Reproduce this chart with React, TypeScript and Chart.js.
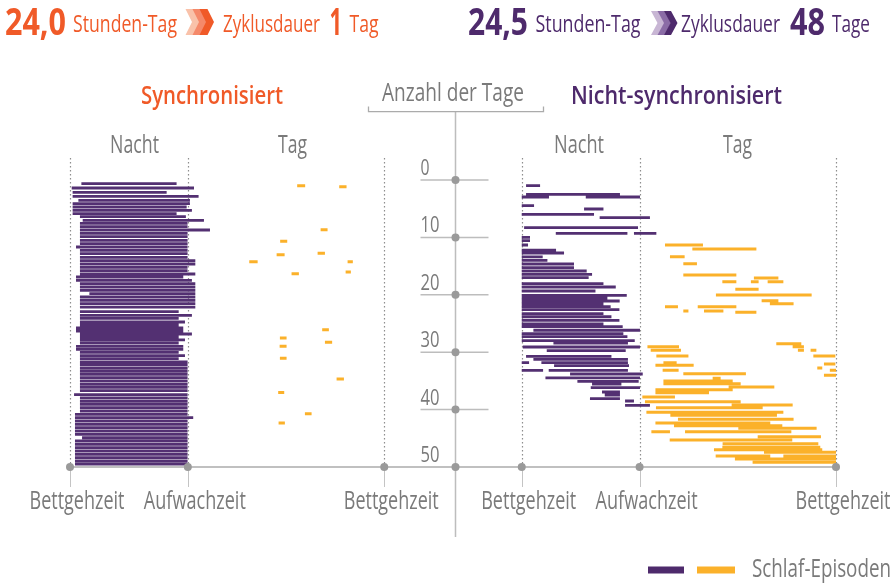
import { useEffect, useRef } from 'react';
import { Chart, registerables } from 'chart.js';
Chart.register(...registerables);

// ---- data (day number, start hour, end hour; hours after bedtime) ----
const DAY_TICKS = [0, 10, 20, 30, 40, 50];
const TIME_LABELS = ['Bettgehzeit', 'Aufwachzeit', 'Bettgehzeit'];
const PANEL_TITLES = ['Synchronisiert', 'Nicht-synchronisiert'];
const PHASE_LABELS = ['Nacht', 'Tag'];
const LEGEND_LABEL = 'Schlaf-Episoden';

const LEFT_NIGHT: [number, number, number][] = [
  [0.64, 0.87, 8.14], [1.39, 0.13, 9.47], [2.15, 0.2, 7.38], [2.85, 0.2, 9.82], [3.54, 0.64, 9.16],
  [4.12, 0.2, 9.16], [4.7, 0.2, 8.91], [5.28, 0.2, 9.31], [5.86, 0.2, 8.14], [6.39, 0.76, 8.85],
  [7.03, 0.97, 10.23], [7.55, 0.76, 8.98], [8.13, 0.76, 8.98], [8.71, 0.76, 10.69], [9.29, 0.76, 8.98],
  [9.87, 0.76, 8.98], [10.51, 0.76, 8.98], [11.09, 0.76, 8.98], [11.67, 0.46, 8.98], [12.26, 0.76, 8.98],
  [12.84, 0.76, 8.98], [13.47, 0.76, 8.98], [14.05, 0.76, 9.57], [14.63, 0.76, 9.57], [15.22, 0.76, 8.98],
  [15.8, 0.76, 8.98], [16.38, 0.76, 9.57], [16.9, 0.46, 8.65], [17.48, 0.46, 9.31], [18.06, 0.76, 9.57],
  [18.64, 0.76, 9.57], [19.22, 0.76, 9.57], [19.8, 1.48, 9.57], [20.38, 0.76, 9.57], [20.97, 0.76, 9.57],
  [21.55, 0.76, 9.57], [22.13, 0.76, 9.57], [22.94, 0.76, 8.3], [23.58, 0.76, 9.31], [24.1, 0.76, 8.3],
  [24.74, 0.76, 8.78], [25.26, 0.76, 8.3], [25.78, 0.46, 8.65], [26.31, 0.46, 8.65], [26.83, 0.76, 9.31],
  [27.35, 0.76, 8.3], [27.87, 0.76, 8.78], [28.4, 0.76, 8.3], [28.97, 0.46, 8.65], [29.5, 0.46, 8.65],
  [30.02, 0.76, 8.3], [30.61, 0.76, 8.78], [31.13, 0.76, 8.3], [31.71, 0.76, 8.98], [32.23, 0.76, 8.98],
  [32.81, 0.76, 8.98], [33.33, 0.76, 8.98], [33.86, 0.76, 8.98], [34.44, 0.76, 8.98], [35.02, 0.76, 8.98],
  [35.6, 0.76, 8.98], [36.12, 0.76, 8.98], [36.71, 0.76, 8.98], [37.4, 0.31, 8.98], [37.98, 0.76, 8.98],
  [38.56, 0.76, 8.98], [39.08, 0.76, 8.98], [39.67, 0.76, 8.98], [40.24, 0.76, 8.98], [40.82, 0.38, 8.98],
  [41.41, 0.38, 9.41], [41.99, 0.38, 8.98], [42.57, 0.38, 8.98], [43.15, 0.38, 8.98], [43.73, 0.38, 8.98],
  [44.31, 0.38, 8.98], [44.9, 0.92, 8.98], [45.47, 0.38, 8.98], [46.05, 0.38, 8.98], [46.64, 0.38, 8.98],
  [47.21, 0.38, 8.98], [47.79, 0.38, 8.98], [48.38, 0.38, 8.98], [48.95, 0.38, 8.98], [49.48, 0.38, 8.98],
];

const LEFT_DAY: [number, number, number][] = [
  [0.99, 17.35, 17.96], [1.17, 20.56, 21.12], [8.66, 19.14, 19.67], [10.68, 16.05, 16.59],
  [13.01, 15.78, 16.39], [12.77, 18.91, 19.47], [14.23, 13.69, 14.33], [14.23, 21.2, 21.6],
  [16.03, 21.05, 21.45], [16.32, 16.92, 17.48], [26.08, 19.26, 19.77], [27.53, 16.03, 16.54],
  [28.28, 19.47, 20.02], [28.98, 16.01, 16.54], [31.06, 16.03, 16.54], [34.67, 20.36, 20.92],
  [37.0, 15.9, 16.36], [40.71, 17.94, 18.45], [42.33, 15.93, 16.41],
];

const RIGHT_NIGHT: [number, number, number][] = [
  [0.99, 0.33, 1.4], [2.49, 0.33, 7.5], [2.96, 0, 2.08], [2.96, 4.89, 9.03], [4.48, 0, 0.94],
  [5.05, 4.76, 6.24], [5.98, 0, 5.52], [6.57, 5.95, 9.79], [8.31, 0.18, 8.88], [9.29, 2.6, 8.07],
  [9.29, 8.57, 10.28], [9.98, 0, 0.63], [10.57, 0, 0.63], [11.32, 0, 0.48], [12.2, 0, 2.62],
  [12.72, 0, 3.23], [13.41, 0, 1.6], [13.99, 0, 1.96], [14.63, 0, 3.99], [15.28, 0, 3.99],
  [15.85, 0, 4.96], [16.43, 0, 5.37], [17.02, 0, 5.11], [18.07, 0, 6.24], [18.64, 0, 7.18],
  [19.34, 0, 5.63], [20.09, 0, 8.02], [20.56, 0, 6.54], [21.08, 0, 7.48], [21.6, 0, 6.24],
  [22.07, 0, 6.79], [22.6, 0, 7.46], [23.29, 0, 6.24], [23.82, 0, 6.85], [24.44, 0, 7.46],
  [25.09, 0, 6.24], [25.56, 0, 7.71], [26.18, 0.89, 9.03], [26.78, 0, 7.76], [27.3, 0, 8.07],
  [28.0, 0, 8.63], [28.4, 2.42, 8.11], [29.09, 0.08, 9.03], [29.74, 1.91, 7.94], [30.71, 0.33, 6.85],
  [31.24, 0.89, 8.11], [31.83, 0, 0.56], [31.83, 1.5, 8.11], [32.35, 2.47, 8.19], [33.15, 0, 1.63],
  [33.15, 2.06, 8.11], [33.8, 3.69, 9.24], [34.49, 1.81, 9.03], [35.07, 4.25, 8.93], [35.54, 5.37, 7.61],
  [36.18, 5.27, 9.03], [36.93, 6.13, 7.5], [37.46, 6.34, 7.5], [38.1, 5.21, 7.5], [38.5, 7.89, 8.57],
  [39.25, 7.89, 9.79],
];

const RIGHT_DAY: [number, number, number][] = [
  [11.32, 10.94, 13.84], [12.02, 13.03, 17.92], [13.36, 11.32, 12.44], [14.58, 12.34, 13.38],
  [16.55, 12.34, 16.39], [17.07, 17.73, 19.6], [17.72, 15.32, 16.39], [17.72, 17.5, 18.09],
  [17.72, 18.78, 19.98], [19.04, 16.31, 18.09], [20.03, 14.83, 22.14], [21.03, 18.32, 19.6],
  [21.55, 18.95, 20.76], [22.07, 10.94, 11.93], [22.07, 13.44, 16.39], [22.82, 12.34, 12.73],
  [22.82, 13.92, 15.4], [23.05, 16.31, 17.92], [28.52, 19.44, 21.35], [29.04, 9.6, 12.01],
  [29.04, 20.69, 21.55], [29.67, 9.85, 12.16], [29.67, 21.09, 21.55], [29.67, 22.06, 22.5],
  [30.66, 10.28, 12.73], [30.66, 22.27, 23.95], [31.83, 10.82, 11.83], [32.06, 23.08, 23.95],
  [32.28, 10.21, 13.13], [32.75, 22.57, 22.95], [33.15, 10.76, 11.98], [33.15, 23.53, 24.0],
  [33.75, 12.34, 17.12], [34.02, 23.08, 24.0], [34.55, 14.58, 15.19], [35.02, 10.82, 16.11],
  [35.49, 10.82, 16.72], [36.06, 15.8, 19.29], [36.53, 10.21, 16.11], [37.06, 10.21, 14.3],
  [37.8, 9.21, 11.7], [38.62, 9.41, 16.72], [39.2, 16.03, 20.69], [39.67, 10.25, 18.4],
  [40.47, 9.52, 19.98], [41.0, 11.35, 19.49], [41.69, 11.93, 20.76], [42.33, 10.21, 18.98],
  [42.8, 11.63, 19.9], [43.26, 16.54, 22.52], [43.85, 9.9, 11.32], [43.85, 12.47, 20.59],
  [44.72, 18.02, 22.85], [45.3, 11.3, 20.66], [45.94, 15.34, 22.65], [46.57, 15.32, 22.8],
  [46.99, 14.68, 22.95], [47.44, 18.5, 24.0], [48.08, 14.81, 18.98], [48.08, 19.98, 24.0],
  [48.61, 16.28, 24.0], [49.18, 17.63, 24.0],
];

// ---- layout constants ----
const R_OFFSET = 34.5; // right panel bedtime on the shared hour scale
const CENTER = 29.4; // centre day axis on the hour scale
const WAKE = 9;
const DAY_LEN = 24;
const GUIDE_TOP = -3.85;

const PURPLE = '#4e2a6c';
const BAR_PURPLE = '#533072';
const ORANGE = '#fbb12a';
const RED = '#f05a28';
const GREY_TXT = '#7a7a7a';
const GREY_LINE = '#ababab';
const GREY_DOT = '#9a9a9a';
const FONT = '"Open Sans", "Noto Sans", sans-serif';

function segs(rows: [number, number, number][], off: number) {
  const pts: { x: number; y: number | null }[] = [];
  for (const [d, s, e] of rows) {
    pts.push({ x: off + s, y: d }, { x: off + e, y: d }, { x: off + e, y: null });
  }
  return pts;
}

function fit(ctx: CanvasRenderingContext2D, s: string, left: number, base: number, size: number, weight: number, color: string, width: number) {
  ctx.font = `${weight} ${size}px ${FONT}`;
  const m = ctx.measureText(s).width;
  ctx.save();
  ctx.translate(left, base);
  ctx.scale(width / m, 1);
  ctx.fillStyle = color;
  ctx.textAlign = 'left';
  ctx.textBaseline = 'alphabetic';
  ctx.fillText(s, 0, 0);
  ctx.restore();
}

function chevrons(ctx: CanvasRenderingContext2D, x: number, top: number, bottom: number, w: number, depth: number, step: number, colors: string[]) {
  const mid = (top + bottom) / 2;
  colors.forEach((c, i) => {
    const x0 = x + i * step;
    ctx.beginPath();
    ctx.moveTo(x0, top);
    ctx.lineTo(x0 + w, top);
    ctx.lineTo(x0 + w + depth, mid);
    ctx.lineTo(x0 + w, bottom);
    ctx.lineTo(x0, bottom);
    ctx.lineTo(x0 + depth, mid);
    ctx.closePath();
    ctx.fillStyle = c;
    ctx.fill();
  });
}

const deco = {
  id: 'deco',
  beforeDatasetsDraw(chart: any) {
    const { ctx } = chart;
    const xs = chart.scales.x, ys = chart.scales.y;
    const X = (v: number) => xs.getPixelForValue(v);
    const Y = (v: number) => ys.getPixelForValue(v);
    ctx.save();
    // dotted guides
    ctx.strokeStyle = '#8e8e8e';
    ctx.lineWidth = 1.2;
    ctx.setLineDash([1.5, 2.5]);
    for (const off of [0, R_OFFSET]) {
      for (const h of [0, WAKE, DAY_LEN]) {
        const px = Math.round(X(off + h)) + 0.5;
        ctx.beginPath();
        ctx.moveTo(px, Y(GUIDE_TOP));
        ctx.lineTo(px, Y(50));
        ctx.stroke();
      }
    }
    ctx.setLineDash([]);
    const cx = Math.round(X(CENTER)) + 0.5;
    // centre vertical axis
    ctx.strokeStyle = '#bdbdbd';
    ctx.lineWidth = 1.5;
    ctx.beginPath();
    ctx.moveTo(cx, 111.7);
    ctx.lineTo(cx, 537);
    ctx.stroke();
    // bracket
    ctx.strokeStyle = GREY_LINE;
    ctx.lineWidth = 1.3;
    ctx.beginPath();
    ctx.moveTo(cx - 87, 106.5);
    ctx.lineTo(cx - 87, 111.7);
    ctx.lineTo(cx + 88, 111.7);
    ctx.lineTo(cx + 88, 106.5);
    ctx.stroke();
    // day tick lines
    ctx.strokeStyle = '#bdbdbd';
    ctx.lineWidth = 1.5;
    for (const d of DAY_TICKS) {
      if (d === 50) continue;
      ctx.beginPath();
      ctx.moveTo(cx - 35, Y(d));
      ctx.lineTo(cx + 33, Y(d));
      ctx.stroke();
    }
    // short ticks under base line
    ctx.strokeStyle = '#c4c4c4';
    ctx.lineWidth = 1;
    for (const off of [0, R_OFFSET]) {
      for (const h of [0, WAKE, DAY_LEN]) {
        const px = Math.round(X(off + h)) + 0.5;
        ctx.beginPath();
        ctx.moveTo(px, Y(50));
        ctx.lineTo(px, Y(50) + 20);
        ctx.stroke();
      }
    }
    // base line
    ctx.strokeStyle = GREY_LINE;
    ctx.lineWidth = 1.6;
    ctx.beginPath();
    ctx.moveTo(X(0), Y(50));
    ctx.lineTo(X(R_OFFSET + DAY_LEN), Y(50));
    ctx.stroke();
    ctx.restore();
  },
  afterDatasetsDraw(chart: any) {
    const { ctx } = chart;
    const xs = chart.scales.x, ys = chart.scales.y;
    const X = (v: number) => xs.getPixelForValue(v);
    const Y = (v: number) => ys.getPixelForValue(v);
    ctx.save();
    const cx = Math.round(X(CENTER)) + 0.5;
    // dots
    ctx.fillStyle = GREY_DOT;
    const dot = (x: number, y: number, r: number) => {
      ctx.beginPath();
      ctx.arc(x, y, r, 0, Math.PI * 2);
      ctx.fill();
    };
    for (const off of [0, R_OFFSET]) for (const h of [0, WAKE, DAY_LEN]) dot(X(off + h), Y(50), 4);
    for (const d of DAY_TICKS) dot(cx, Y(d), 4);

    // day tick labels
    DAY_TICKS.forEach((d) => {
      const s = String(d);
      fit(ctx, s, cx - 35, Y(d) - 5, 22, 400, GREY_TXT, s.length === 1 ? 9 : 19);
    });

    // bottom time labels
    const widths = [95, 102, 95];
    for (const off of [0, R_OFFSET]) {
      [0, WAKE, DAY_LEN].forEach((h, i) => {
        const c = X(off + h) + 7;
        fit(ctx, TIME_LABELS[i], c - widths[i] / 2, 509, 26, 400, GREY_TXT, widths[i]);
      });
    }

    // phase labels
    fit(ctx, PHASE_LABELS[0], 110, 153, 26, 400, GREY_TXT, 49);
    fit(ctx, PHASE_LABELS[1], 278, 153, 26, 400, GREY_TXT, 29);
    fit(ctx, PHASE_LABELS[0], 554, 153, 26, 400, GREY_TXT, 50);
    fit(ctx, PHASE_LABELS[1], 723, 153, 26, 400, GREY_TXT, 29);

    // panel titles
    fit(ctx, PANEL_TITLES[0], 141, 104, 25.5, 600, RED, 142);
    fit(ctx, PANEL_TITLES[1], 571, 104, 25.5, 600, PURPLE, 211);
    fit(ctx, 'Anzahl der Tage', 382, 101, 25, 400, GREY_TXT, 142);

    // header left
    fit(ctx, '24,0', 5, 35, 38, 700, RED, 61);
    fit(ctx, 'Stunden-Tag', 73, 31.7, 24, 400, RED, 104);
    chevrons(ctx, 185.5, 9, 35, 8, 6.5, 7, ['#f9c2aa', '#f5896a', RED]);
    fit(ctx, 'Zyklusdauer', 223, 31.7, 24, 400, RED, 97);
    fit(ctx, '1', 329.5, 35, 38, 700, RED, 12.5);
    fit(ctx, 'Tag', 349.5, 31.7, 24, 400, RED, 29);

    // header right
    fit(ctx, '24,5', 468, 35, 38, 700, PURPLE, 60);
    fit(ctx, 'Stunden-Tag', 535.5, 31.7, 24, 400, PURPLE, 105);
    chevrons(ctx, 651, 11, 35, 7, 6.5, 6.5, ['#c8b6d4', '#8b6ca6', PURPLE]);
    fit(ctx, 'Zyklusdauer', 681, 31.7, 24, 400, PURPLE, 99);
    fit(ctx, '48', 790, 35, 38, 700, PURPLE, 35);
    fit(ctx, 'Tage', 832, 31.7, 24, 400, PURPLE, 38);

    // legend
    ctx.fillStyle = PURPLE;
    ctx.fillRect(648, 566.5, 36, 7);
    ctx.fillStyle = ORANGE;
    ctx.fillRect(697, 566.5, 38, 7);
    fit(ctx, LEGEND_LABEL, 752, 577, 26, 400, GREY_TXT, 139);
    ctx.restore();
  },
};

export default function App() {
  const ref = useRef<HTMLCanvasElement | null>(null);
  useEffect(() => {
    if (!ref.current) return;
    const line = (data: any, color: string, width: number) => ({
      data,
      borderColor: color,
      backgroundColor: color,
      borderWidth: width,
      pointRadius: 0,
      tension: 0,
      spanGaps: false,
      fill: false,
      borderCapStyle: 'butt' as const,
      clip: false as any,
    });
    const chart = new Chart(ref.current, {
      type: 'line',
      data: {
        datasets: [
          { label: 'Nacht (synchronisiert)', ...line(segs(LEFT_NIGHT, 0), BAR_PURPLE, 2.8) },
          { label: 'Tag (synchronisiert)', ...line(segs(LEFT_DAY, 0), ORANGE, 3) },
          { label: 'Nacht (nicht-synchronisiert)', ...line(segs(RIGHT_NIGHT, R_OFFSET), BAR_PURPLE, 2.8) },
          { label: 'Tag (nicht-synchronisiert)', ...line(segs(RIGHT_DAY, R_OFFSET), ORANGE, 3) },
        ],
      },
      options: {
        responsive: false,
        maintainAspectRatio: false,
        animation: false,
        devicePixelRatio: 1,
        events: [],
        layout: { padding: { left: 70, right: 58, top: 180, bottom: 118 } },
        scales: {
          x: { type: 'linear', min: 0, max: R_OFFSET + DAY_LEN, display: false },
          y: { type: 'linear', min: 0, max: 50, reverse: true, display: false },
        },
        plugins: { legend: { display: false }, tooltip: { enabled: false } },
      },
      plugins: [deco],
    });
    return () => chart.destroy();
  }, []);
  return (
    <div style={{ position: 'absolute', left: 0, top: 0, width: 894, height: 585, background: '#fff' }}>
      <canvas ref={ref} width={894} height={585} style={{ display: 'block', width: 894, height: 585 }} />
    </div>
  );
}
